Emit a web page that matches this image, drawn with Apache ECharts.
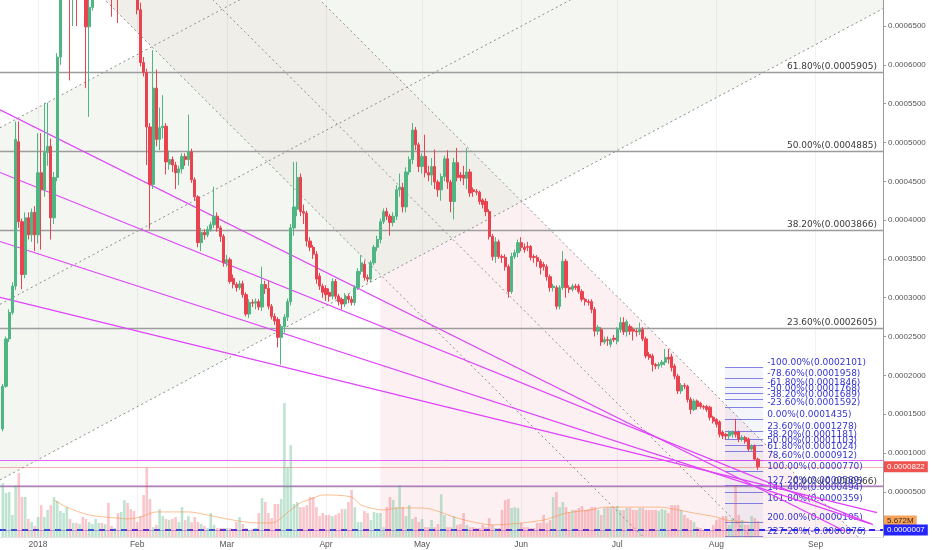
<!DOCTYPE html>
<html><head><meta charset="utf-8">
<script src="https://cdn.jsdelivr.net/npm/echarts@6/dist/echarts.min.js"></script>
<style>html,body{margin:0;padding:0;background:#fff}#c{width:932px;height:550px}</style>
</head><body><div id="c"></div>
<script>
// ---------- DATA ----------
const PRICE_UNIT = 1e-6;           // candle values below are in millionths
const FIRST_DAY = -11;             // first candle, days from 2018-01-01 (daily candles)
// [open, close, low, high]
const candles = [
[131,186,128,189],[186,247,184,250],[247,281,243,285],[281,315,278,320],[315,504,310,527],
[501,398,390,527],[398,330,311,402],[330,403,325,410],[403,381,375,410],[381,410,372,415],
[410,381,360,418],[381,461,370,512],[461,439,362,512],[439,487,430,551],[487,495,470,551],
[495,403,375,505],[403,455,395,462],[455,610,450,615],[610,720,600,735],[720,760,700,790],
[760,800,720,840],[800,740,580,830],[740,780,650,800],[780,750,650,810],[750,800,720,830],
[800,780,740,850],[780,649,570,790],[649,674,533,690],[674,760,670,780],[760,820,740,850],
[820,870,790,900],[870,830,780,910],[830,860,800,890],[860,820,760,880],[820,760,662,840],
[760,790,720,820],[790,740,654,800],[740,780,710,800],[780,800,750,830],[800,770,730,820],
[770,760,720,790],[760,740,700,770],[740,671,665,750],[671,603,598,680],[603,590,585,610],
[590,520,471,595],[520,446,388,525],[446,570,440,619],[570,504,495,594],[504,519,490,545],
[519,521,505,561],[521,475,459,525],[472,478,465,490],[478,471,462,482],[471,461,440,475],
[461,466,445,470],[466,482,460,486],[482,478,470,486],[478,488,470,536],[488,452,448,492],
[452,430,425,455],[430,371,365,432],[371,384,360,390],[384,381,375,388],[381,388,378,392],
[388,394,385,398],[394,405,390,443],[405,390,385,410],[390,379,372,393],[379,345,340,382],
[345,349,340,355],[349,321,318,352],[325,317,312,330],[317,313,308,320],[313,318,310,322],
[318,304,300,322],[304,279,276,307],[279,294,274,298],[294,293,288,298],[293,295,285,299],
[295,288,284,298],[288,317,283,340],[317,312,305,322],[312,289,285,322],[289,276,272,292],
[276,270,265,280],[272,249,236,275],[249,263,214,266],[263,275,255,279],[275,295,270,299],
[295,390,290,395],[390,417,380,475],[414,455,405,475],[455,411,405,460],[411,409,395,420],
[409,373,366,412],[373,365,360,378],[365,356,350,368],[356,324,318,360],[328,315,310,332],
[315,307,300,318],[312,304,296,316],[307,302,295,312],[302,321,298,325],[321,302,298,324],
[302,295,290,305],[298,292,285,300],[292,302,288,306],[302,298,293,305],[298,294,290,302],
[294,313,290,316],[313,334,310,338],[334,345,330,355],[343,326,322,348],[326,324,320,330],
[324,345,320,348],[345,365,342,368],[365,375,360,380],[375,398,370,402],[398,411,395,415],
[411,405,400,416],[405,397,380,408],[397,405,392,410],[405,439,400,445],[439,442,430,460],
[442,417,410,448],[417,462,410,468],[462,478,458,482],[478,516,472,525],[516,497,490,520],
[497,469,462,500],[469,482,460,486],[482,461,455,510],[461,458,450,470],[458,469,445,480],
[469,449,440,491],[449,439,430,452],[439,456,425,460],[456,479,450,483],[479,449,440,490],
[449,424,410,452],[424,474,401,480],[474,455,450,493],[458,455,450,462],[458,454,445,470],
[454,462,440,493],[462,435,430,466],[439,437,430,442],[437,436,432,440],[436,424,420,438],
[426,420,415,428],[424,411,405,428],[411,379,375,414],[379,353,348,382],[353,372,345,378],
[372,353,350,375],[353,352,345,356],[352,340,335,356],[340,308,300,343],[308,353,305,358],
[353,358,350,362],[358,371,352,375],[371,365,360,378],[365,362,358,370],[366,365,360,372],
[366,352,348,368],[353,352,345,356],[352,347,340,355],[347,339,330,350],[343,340,335,346],
[340,327,322,343],[327,313,308,330],[313,315,308,318],[313,289,285,316],[289,313,285,316],
[313,347,310,360],[347,313,300,350],[313,311,306,316],[311,315,308,318],[315,313,310,318],
[315,308,305,318],[308,298,295,311],[298,295,290,300],[295,294,290,298],[295,285,280,298],
[285,257,250,288],[257,262,252,265],[259,243,238,262],[243,246,240,250],[246,245,238,250],
[240,246,236,248],[248,246,243,252],[244,259,240,262],[259,268,255,275],[268,256,252,275],
[256,269,250,272],[263,257,252,266],[259,257,245,262],[257,256,250,260],[256,259,252,268],
[259,247,244,262],[247,225,222,250],[227,223,220,230],[225,214,205,228],[214,212,208,216],
[212,214,208,217],[214,217,210,220],[217,223,213,234],[223,221,215,234],[224,210,205,228],
[212,199,195,215],[199,180,176,202],[180,187,176,190],[187,186,182,190],[186,169,165,188],
[169,156,150,172],[156,167,154,170],[167,160,156,169],[164,160,157,166],[160,159,156,162],
[160,156,153,162],[159,146,142,161],[146,141,138,148],[143,137,133,145],[140,124,120,142],
[127,122,118,129],[124,122,117,126],[122,127,118,129],[124,127,120,129],[127,124,120,144],
[127,118,114,129],[118,120,115,123],[120,115,112,122],[118,105,102,120],[105,109,103,111],
[109,92,90,111],[92,82.2,78,94]
];
// volume, millions
const volumes = [
19.1,15.6,16.0,7.8,18.4,22.7,14.2,14.2,6.4,5.3,3.9,7.1,11.3,7.1,9.6,11.3,14.2,12.8,9.2,8.5,
10.6,6.4,5.0,5.0,4.6,7.1,6.4,5.3,4.6,6.4,5.0,5.0,4.6,12.1,3.9,3.2,8.5,8.9,13.1,12.1,
9.9,9.2,5.3,7.4,14.9,24.5,13.5,3.5,4.3,9.9,7.4,6.4,6.0,6.4,7.1,5.3,10.6,6.0,7.4,5.3,
7.1,5.3,4.6,3.9,3.2,8.5,4.3,3.2,3.2,3.2,3.2,3.2,2.8,5.3,7.1,4.6,3.2,2.5,2.8,3.2,
8.5,13.8,12.4,8.5,6.7,11.7,11.7,13.5,47.5,24.8,32.6,11.7,12.4,10.6,10.6,11.3,14.2,14.2,10.6,7.4,
8.5,7.8,7.8,7.4,7.8,8.5,9.9,9.9,12.4,16.7,10.6,5.3,5.3,9.2,8.5,6.0,8.9,8.5,8.5,3.5,
10.6,14.2,13.1,10.6,18.4,10.6,7.4,11.3,6.4,7.1,5.3,6.4,3.5,3.5,6.0,3.5,4.6,15.2,7.8,3.5,
3.5,7.4,4.3,
4.6,8.5,4.3,3.5,3.5,3.2,3.2,4.3,3.5,6.7,4.3,3.2,3.2,9.6,13.1,13.5,10.3,10.6,10.3,5.0,
3.5,3.5,3.2,3.2,5.0,5.0,7.8,5.0,6.0,14.2,16.0,10.6,12.4,10.6,8.9,9.6,9.6,10.3,11.0,9.6,
9.9,10.6,10.6,9.6,7.8,10.3,10.6,10.6,10.6,11.0,9.6,9.6,10.3,10.3,9.6,9.6,10.3,10.3,9.6,9.6,
9.6,9.6,9.2,9.9,9.6,8.5,11.3,11.3,11.3,9.6,7.8,6.7,6.0,5.3,3.5,3.2,2.5,2.1,2.1,4.3,
6.0,6.7,7.4,7.4,4.3,6.7,18.4,7.8,6.0,4.3,4.3,7.4,6.7,5.672
];
// volume moving average [day, millions]
const volumeMA = [[5,13.1],[9,10.6],[16,7.8],[25,6.7],[28,6.4],[32,7.1],[37,8.9],[47,8.9],[53,7.8],
[61,6.0],[68,5.0],[73,5.0],[79,9.6],[82,12.1],[86,13.8],[89,14.9],[98,14.2],[101,11.3],[108,9.6],
[113,10.3],[120,10.3],[132,6.4],[142,4.3],[158,6.0],[165,8.5],[173,9.6],[177,10.6],[184,10.6],
[194,10.6],[200,9.6],[205,8.5],[212,7.1],[215,6.0],[222,5.3]];
const priceTicks = [0.00005,0.0001,0.00015,0.0002,0.00025,0.0003,0.00035,0.0004,0.00045,0.0005,0.00055,0.0006,0.00065];
// month starts, days from 2018-01-01
const monthDays = [0,31,59,90,120,151,181,212,243];
const monthNames = ['2018','Feb','Mar','Apr','May','Jun','Jul','Aug','Sep'];
const grayFibPct = ['0.00%','23.60%','38.20%','50.00%','61.80%'];
const grayFibVal = [0.0000566,0.0002605,0.0003866,0.0004885,0.0005905];
const blueFibPct = ['-100.00%','-78.60%','-61.80%','-50.00%','-38.20%','-23.60%','0.00%','23.60%','38.20%','50.00%','61.80%','78.60%','100.00%','127.20%','141.40%','161.80%','200.00%','227.20%'];
const blueFibVal = [0.0002101,0.0001958,0.0001846,0.0001768,0.0001689,0.0001592,0.0001435,0.0001278,0.0001181,0.0001103,0.0001024,0.0000912,0.0000770,0.0000589,0.0000494,0.0000359,0.0000105,-0.0000076];
const blueFibDays = [214.7, 226.6];
// trend lines: [[day, price µ],[day, price µ]]
const trendLines = [
  [[-11.875,542.1],[252.2,-0.9]],
  [[-11.875,461.4],[260.9,7.8]],
  [[-11.875,372.5],[260.0,9.0]],
  [[-11.875,300.5],[262.2,23.3]]
];
// rising channel (upper, median, lower) and falling channel (upper, median, lower)
const risingChannel = [
  [[-11.875,519.0],[264.06,1126.1]],
  [[-11.875,291.5],[264.06,898.6]],
  [[-11.875,65.3],[264.06,672.4]]
];
const fallingChannel = [
  [[-11.875,1094.8],[264.06,-40.1]],
  [[-11.875,957.3],[264.06,-177.6]],
  [[-11.875,818.5],[264.06,-316.4]]
];
const pinkZoneStartDay = 107;
const lastPrice = 0.0000822, hLine1 = 0.0000912, hLine2 = 0.0000572, bidLine = 0.0000007, lastVolume = 5.672;

// ---------- HELPERS ----------
const XMIN = -11.875, XMAX = 264.06;
const YMIN = -0.0000082, YMAX = 0.00068355;
const UP = '#4fb583', DOWN = '#e9434f';
const candleData = candles.map((c,i)=>[FIRST_DAY+i, c[0]*PRICE_UNIT, c[1]*PRICE_UNIT, c[2]*PRICE_UNIT, c[3]*PRICE_UNIT]);
const volData = volumes.map((v,i)=>({value:[FIRST_DAY+i, v], itemStyle:{color: candles[i][1]>=candles[i][0] ? 'rgba(83,185,135,0.38)' : 'rgba(235,77,92,0.32)'}}));
const seg = l => [[l[0][0], l[0][1]*PRICE_UNIT],[l[1][0], l[1][1]*PRICE_UNIT]];

function clip(poly, a, b, below){
  const out=[]; const f=p=>{const c=(b[0]-a[0])*(p[1]-a[1])-(b[1]-a[1])*(p[0]-a[0]); return below?c:-c;};
  for(let i=0;i<poly.length;i++){const p=poly[i],q=poly[(i+1)%poly.length];const fp=f(p),fq=f(q);
    if(fp>=0)out.push(p);
    if((fp>=0)!==(fq>=0)){const t=fp/(fp-fq);out.push([p[0]+(q[0]-p[0])*t,p[1]+(q[1]-p[1])*t]);}}
  return out;
}
function clipX(poly,x0){ // keep x >= x0
  const out=[];
  for(let i=0;i<poly.length;i++){const p=poly[i],q=poly[(i+1)%poly.length];const fp=p[0]-x0,fq=q[0]-x0;
    if(fp>=0)out.push(p);
    if((fp>=0)!==(fq>=0)){const t=fp/(fp-fq);out.push([p[0]+(q[0]-p[0])*t,p[1]+(q[1]-p[1])*t]);}}
  return out;
}
function fills(params, api){
  const cs=params.coordSys;
  const rect=[[cs.x,cs.y],[cs.x+cs.width,cs.y],[cs.x+cs.width,cs.y+cs.height],[cs.x,cs.y+cs.height]];
  const px=l=>seg(l).map(p=>api.coord(p));
  const A1=px(risingChannel[0]), A3=px(risingChannel[2]);
  const B=px(fallingChannel[0]), Aa=px(fallingChannel[2]);
  const xp=api.coord([pinkZoneStartDay,0])[0];
  const asc=clip(clip(rect,A1[0],A1[1],true),A3[0],A3[1],false);
  const beige=clip(clip(clip(rect,B[0],B[1],true),Aa[0],Aa[1],false),A3[0],A3[1],false);
  const pink=clipX(clip(clip(rect,B[0],B[1],true),A3[0],A3[1],true),xp);
  const polys=[
    [clip(asc,B[0],B[1],false),'#f4f6f2'],
    [clip(asc,Aa[0],Aa[1],true),'#f4f6f2'],
    [beige,'#efeee9'],
    [pink,'#fcf0f2']
  ];
  return {type:'group',children:polys.filter(p=>p[0].length>2).map(p=>({type:'polygon',shape:{points:p[0]},style:{fill:p[1]}}))};
}
const dotted = l => ({type:'line',data:seg(l),symbol:'none',silent:true,clip:true,z:3,
  lineStyle:{color:'#8c8c8c',width:1,type:[2,3]}});
const magenta = l => ({type:'line',data:seg(l),symbol:'none',silent:true,clip:true,z:6,
  lineStyle:{color:'#e040fb',width:1.2}});
const boxLabel = (text,bg,fg) => ({show:true,position:'end',distance:1,formatter:text,backgroundColor:bg,color:fg,
  fontFamily:'Liberation Sans',fontSize:8,padding:[2,3,1,3]});

const option = {
  animation:false,
  backgroundColor:'#ffffff',
  grid:[{left:0,right:49,top:0,bottom:13},{left:0,right:49,top:400,bottom:13}],
  xAxis:[
    {type:'value',gridIndex:0,min:XMIN,max:XMAX,
     axisLine:{show:true,onZero:false,lineStyle:{color:'#e2e2e2'}},axisTick:{show:false},splitLine:{show:false},
     axisLabel:{customValues:monthDays,
       formatter:v=>{const i=monthDays.indexOf(v);return i>=0?monthNames[i]:'';},
       fontFamily:'Liberation Sans',fontSize:8.5,color:'#555',margin:3,hideOverlap:false}},
    {type:'value',gridIndex:1,min:XMIN,max:XMAX,show:false}
  ],
  yAxis:[
    {type:'value',gridIndex:0,position:'right',min:YMIN,max:YMAX,
     axisLine:{show:true,onZero:false,lineStyle:{color:'#9a9a9a'}},
     axisTick:{show:true,length:3,customValues:priceTicks,lineStyle:{color:'#9a9a9a'}},
     splitLine:{show:false},
     axisLabel:{customValues:priceTicks,formatter:v=>v.toFixed(7),fontFamily:'Liberation Sans',fontSize:8,color:'#555',margin:5}},
    {type:'value',gridIndex:1,min:0,max:48.6,show:false}
  ],
  series:[
    {type:'custom',renderItem:fills,data:[[XMIN,0]],silent:true,z:0,clip:false},
    {type:'line',data:[],silent:true,clip:false,z:1,
     markLine:{symbol:['none','none'],silent:true,precision:10,label:{show:false},
       lineStyle:{color:'rgba(0,0,0,0.05)',width:1,type:'solid'},
       data:monthDays.map(d=>({xAxis:d}))}},
    ...risingChannel.map(dotted),
    ...fallingChannel.map(dotted),
    {type:'line',data:[],silent:true,clip:false,z:4,
     markLine:{symbol:['none','none'],silent:true,precision:10,
       data:grayFibVal.map((v,i)=>({yAxis:v,lineStyle:{color:'#9c9c9c',width:1.3,type:'solid'},
         label:{show:true,position:'insideEndTop',distance:[6,1],formatter:grayFibPct[i]+'('+v.toFixed(7)+')',
           fontFamily:'DejaVu Sans',fontSize:9,color:'#3a3a3a'}}))}},
    {type:'bar',xAxisIndex:1,yAxisIndex:1,data:volData,barWidth:2.6,silent:true,z:5,clip:false,
     markLine:{symbol:['none','none'],silent:true,precision:10,
       data:[{yAxis:lastVolume,lineStyle:{color:'rgba(0,0,0,0)',width:0},label:boxLabel(lastVolume.toFixed(3)+'M','#f7a35c','#3a2a10')}]}},
    {type:'line',xAxisIndex:1,yAxisIndex:1,data:volumeMA,symbol:'none',smooth:0.3,silent:true,z:5,
     lineStyle:{color:'rgba(245,140,60,0.55)',width:1}},
    {type:'line',data:[],silent:true,clip:false,z:5,
     markArea:{silent:true,itemStyle:{color:'rgba(120,130,210,0.08)'},
       data:[[{coord:[blueFibDays[0],blueFibVal[blueFibVal.length-1]]},{coord:[blueFibDays[1],blueFibVal[0]]}]]},
     markLine:{symbol:['none','none'],silent:true,precision:10,
       data:blueFibVal.map((v,i)=>[
         {coord:[blueFibDays[0],v],lineStyle:{color:'rgba(80,80,215,0.7)',width:1,type:'solid'},
          label:{show:true,position:'end',distance:4,verticalAlign:'bottom',formatter:blueFibPct[i]+'('+v.toFixed(7)+')',
            fontFamily:'DejaVu Sans',fontSize:9,color:'#3535d0'}},
         {coord:[blueFibDays[1],v]}])}},
    {type:'candlestick',data:candleData,barWidth:2.7,z:6,clip:true,silent:true,
     itemStyle:{color:UP,color0:DOWN,borderColor:UP,borderColor0:DOWN,borderWidth:1}},
    ...trendLines.map(magenta),
    {type:'line',data:[],silent:true,clip:false,z:7,
     markLine:{symbol:['none','none'],silent:true,precision:10,
       data:[
         {yAxis:hLine1,lineStyle:{color:'rgba(224,64,251,0.8)',width:1,type:'solid'},label:{show:false}},
         {yAxis:hLine2,lineStyle:{color:'rgba(200,80,230,0.45)',width:1.5,type:'solid'},label:{show:false}},
         {yAxis:lastPrice,lineStyle:{color:'rgba(239,83,80,0.45)',width:1,type:'solid'},label:boxLabel(lastPrice.toFixed(7),'#ef5350','#ffffff')},
         {yAxis:bidLine,lineStyle:{color:'rgba(170,60,220,0.55)',width:1,type:'solid'},label:{show:false}},
         {yAxis:bidLine,lineStyle:{color:'#2b2bf0',width:2,type:[6,5]},label:boxLabel(bidLine.toFixed(7),'#2424ff','#ffffff')}
       ]}}
  ]
};
const chart = echarts.init(document.getElementById('c'));
chart.setOption(option);
</script>
</body></html>
